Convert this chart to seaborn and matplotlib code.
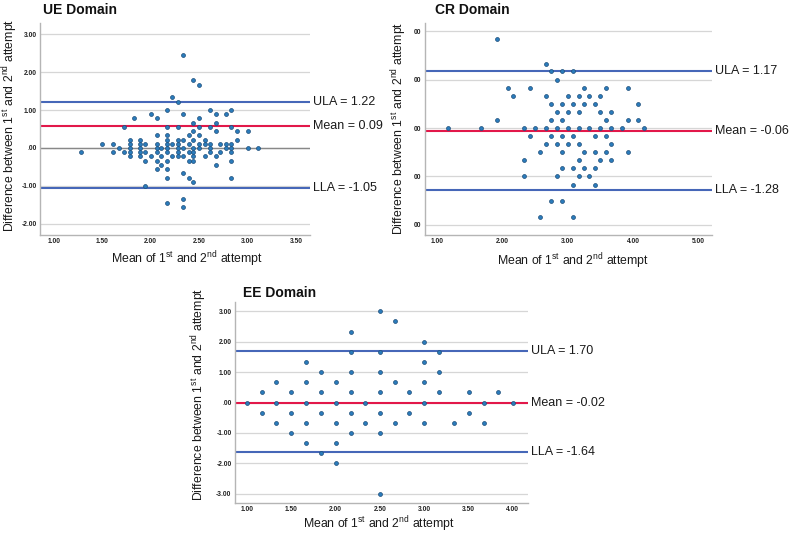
import matplotlib
matplotlib.use("Agg")
import pandas as pd
import matplotlib.pyplot as plt
import matplotlib.transforms as mtransforms
import seaborn as sns

# ---- UE domain: mean of attempts vs difference ----
ue_x = [2.33,
        2.44,
        2.50,
        2.22,
        2.28,
        2.17, 2.61, 2.83,
        2.00, 2.33, 2.67, 2.78,
        1.83, 2.06, 2.50,
        2.44, 2.67,
        1.72, 2.17, 2.28, 2.50, 2.61, 2.83,
        2.44, 2.67, 2.89, 3.00,
        2.06, 2.17, 2.39, 2.50,
        1.78, 1.89, 2.17, 2.28, 2.33, 2.44, 2.56, 2.89,
        1.50, 1.61, 1.78, 1.89, 1.94, 2.06, 2.17, 2.22, 2.28, 2.39, 2.50, 2.56, 2.61, 2.72, 2.78, 2.83,
        1.67, 1.78, 1.89, 2.06, 2.11, 2.17, 2.28, 2.33, 2.44, 2.50, 2.61, 2.78, 2.83, 3.00, 3.11,
        1.28, 1.61, 1.72, 1.78, 1.89, 1.94, 2.06, 2.17, 2.28, 2.39, 2.44, 2.61, 2.72, 2.83,
        1.78, 1.89, 2.00, 2.11, 2.22, 2.28, 2.33, 2.44, 2.56, 2.67,
        1.94, 2.06, 2.17, 2.39, 2.44, 2.83,
        2.11, 2.67,
        2.06, 2.17,
        2.33,
        2.17, 2.39, 2.83,
        2.44,
        1.94,
        2.33,
        2.17,
        2.33]
ue_y = [2.44,
        1.78,
        1.67,
        1.33,
        1.22,
        1.00, 1.00, 1.00,
        0.89, 0.89, 0.89, 0.89,
        0.78, 0.78, 0.78,
        0.67, 0.67,
        0.56, 0.56, 0.56, 0.56, 0.56, 0.56,
        0.44, 0.44, 0.44, 0.44,
        0.33, 0.33, 0.33, 0.33,
        0.22, 0.22, 0.22, 0.22, 0.22, 0.22, 0.22, 0.22,
        0.11, 0.11, 0.11, 0.11, 0.11, 0.11, 0.11, 0.11, 0.11, 0.11, 0.11, 0.11, 0.11, 0.11, 0.11, 0.11,
        0.00, 0.00, 0.00, 0.00, 0.00, 0.00, 0.00, 0.00, 0.00, 0.00, 0.00, 0.00, 0.00, 0.00, 0.00,
        -0.11, -0.11, -0.11, -0.11, -0.11, -0.11, -0.11, -0.11, -0.11, -0.11, -0.11, -0.11, -0.11, -0.11,
        -0.22, -0.22, -0.22, -0.22, -0.22, -0.22, -0.22, -0.22, -0.22, -0.22,
        -0.33, -0.33, -0.33, -0.33, -0.33, -0.33,
        -0.44, -0.44,
        -0.56, -0.56,
        -0.67,
        -0.78, -0.78, -0.78,
        -0.89,
        -1.00,
        -1.33,
        -1.44,
        -1.56]
ue_ula, ue_mean, ue_lla = 1.22, 0.09, -1.05
ue_mean_line = 0.58  # the red line sits here in the source figure

# ---- CR domain ----
cr_x = [1.92,
        2.67,
        2.75, 2.92, 3.08,
        2.83,
        2.08, 2.42, 3.25, 3.58, 3.92,
        2.17, 2.67, 3.00, 3.17, 3.33, 3.50,
        2.75, 2.92, 3.08, 3.25, 3.42, 4.08,
        2.83, 3.00, 3.17, 3.50, 3.67,
        1.92, 2.75, 2.92, 3.58, 3.92, 4.08,
        1.17, 1.67, 2.33, 2.50, 2.67, 2.83, 3.00, 3.17, 3.33, 3.50, 3.67, 3.83, 4.17,
        2.42, 2.75, 2.92, 3.08, 3.42, 3.58,
        2.67, 2.83, 3.00, 3.17, 3.67,
        2.58, 2.92, 3.25, 3.42, 3.58, 3.92,
        2.33, 3.17, 3.50, 3.67,
        2.92, 3.08, 3.25, 3.42,
        2.33, 2.83, 3.17, 3.33,
        3.08, 3.42,
        2.75, 2.92,
        2.58, 3.08]
cr_y = [1.83,
        1.33,
        1.17, 1.17, 1.17,
        1.00,
        0.83, 0.83, 0.83, 0.83, 0.83,
        0.67, 0.67, 0.67, 0.67, 0.67, 0.67,
        0.50, 0.50, 0.50, 0.50, 0.50, 0.50,
        0.33, 0.33, 0.33, 0.33, 0.33,
        0.17, 0.17, 0.17, 0.17, 0.17, 0.17,
        0.00, 0.00, 0.00, 0.00, 0.00, 0.00, 0.00, 0.00, 0.00, 0.00, 0.00, 0.00, 0.00,
        -0.17, -0.17, -0.17, -0.17, -0.17, -0.17,
        -0.33, -0.33, -0.33, -0.33, -0.33,
        -0.50, -0.50, -0.50, -0.50, -0.50, -0.50,
        -0.67, -0.67, -0.67, -0.67,
        -0.83, -0.83, -0.83, -0.83,
        -1.00, -1.00, -1.00, -1.00,
        -1.17, -1.17,
        -1.50, -1.50,
        -1.83, -1.83]
cr_ula, cr_mean, cr_lla = 1.17, -0.06, -1.28

# ---- EE domain ----
ee_x = [2.50,
        2.67,
        2.17,
        3.00,
        2.17, 2.50, 3.17,
        1.67, 3.00,
        1.83, 2.17, 2.50, 3.17,
        1.33, 1.67, 2.00, 2.67, 3.00,
        1.17, 1.50, 1.83, 2.17, 2.50, 2.83, 3.17, 3.50, 3.83,
        1.00, 1.33, 1.67, 2.00, 2.33, 3.00, 3.67, 4.00,
        1.17, 1.50, 1.83, 2.17, 2.50, 2.83, 3.50,
        1.33, 1.67, 2.00, 2.33, 2.67, 3.00, 3.33, 3.67,
        1.50, 2.17, 2.50,
        1.67, 2.00,
        1.83,
        2.00,
        2.50]
ee_y = [3.00,
        2.67,
        2.33,
        2.00,
        1.67, 1.67, 1.67,
        1.33, 1.33,
        1.00, 1.00, 1.00, 1.00,
        0.67, 0.67, 0.67, 0.67, 0.67,
        0.33, 0.33, 0.33, 0.33, 0.33, 0.33, 0.33, 0.33, 0.33,
        0.00, 0.00, 0.00, 0.00, 0.00, 0.00, 0.00, 0.00,
        -0.33, -0.33, -0.33, -0.33, -0.33, -0.33, -0.33,
        -0.67, -0.67, -0.67, -0.67, -0.67, -0.67, -0.67, -0.67,
        -1.00, -1.00, -1.00,
        -1.33, -1.33,
        -1.67,
        -2.00,
        -3.00]
ee_ula, ee_mean, ee_lla = 1.70, -0.02, -1.64

sns.set_theme(style="white")
plt.rcParams["font.family"] = ["Liberation Sans", "DejaVu Sans"]
plt.rcParams["mathtext.default"] = "regular"

BLUE_LINE = "#4667b8"
RED_LINE = "#e2184a"
GRID = "#d6d6d6"
DOT = "#2a7bbb"
DOT_EDGE = "#1d4d78"

XLAB = "Mean of 1$^{st}$ and 2$^{nd}$ attempt"
YLAB = "Difference between 1$^{st}$ and 2$^{nd}$ attempt"


def fmt(v):
    s = "%.2f" % v
    return s.replace("0.00", ".00")


def panel(ax, x, y, title, title_pos, xticks, yticks, ylabels, xlim, ylim, lines):
    df = pd.DataFrame({"mean": x, "diff": y})
    ax.set_xlim(*xlim)
    ax.set_ylim(*ylim)
    ax.set_yticks(yticks)
    ax.set_yticklabels(ylabels)
    ax.set_xticks(xticks)
    ax.set_xticklabels([fmt(t) for t in xticks])
    ax.tick_params(length=0, pad=2.5, labelsize=4.8, colors="#222222")
    for lab in ax.get_xticklabels() + ax.get_yticklabels():
        lab.set_fontweight("bold")
    ax.yaxis.grid(True, color=GRID, lw=0.9)
    ax.xaxis.grid(False)
    ax.set_axisbelow(True)
    for s in ["top", "right"]:
        ax.spines[s].set_visible(False)
    for s in ["left", "bottom"]:
        ax.spines[s].set_color("#b5b5b5")
        ax.spines[s].set_linewidth(1.0)
    trans = mtransforms.blended_transform_factory(ax.transAxes, ax.transData)
    for text, ypos, color in lines:
        ax.axhline(ypos, color=color, lw=1.5, zorder=2)
        ax.annotate(text, xy=(1.0, ypos), xycoords=trans, xytext=(3, 0),
                    textcoords="offset pixels", va="center", ha="left",
                    fontsize=9, color="#1a1a1a", annotation_clip=False)
    sns.scatterplot(data=df, x="mean", y="diff", ax=ax, s=8, color=DOT,
                    edgecolor=DOT_EDGE, linewidth=0.5, zorder=3, legend=False)
    ax.set_xlabel("")
    ax.set_ylabel("")
    ax.text(title_pos[0], title_pos[1], title, transform=ax.transAxes,
            fontsize=10, fontweight="bold", ha="left", va="bottom", color="#111111")


fig = plt.figure(figsize=(7.89, 5.35), dpi=100)
ax_ue = fig.add_axes([40 / 789, 1 - 235 / 535, 270 / 789, 212 / 535])
ax_cr = fig.add_axes([425 / 789, 1 - 235 / 535, 287 / 789, 212 / 535])
ax_ee = fig.add_axes([235 / 789, 1 - 503 / 535, 293 / 789, 201 / 535])

ax_ue.axhline(0, color="#888888", lw=1.0, zorder=1.5)
panel(ax_ue, ue_x, ue_y, "UE Domain", (0.011, 1.03),
      [1.0, 1.5, 2.0, 2.5, 3.0, 3.5],
      [-2, -1, 0, 1, 2, 3], ["-2.00", "-1.00", ".00", "1.00", "2.00", "3.00"],
      (0.855, 3.645), (-2.29, 3.29),
      [("ULA = %.2f" % ue_ula, ue_ula, BLUE_LINE),
       ("Mean = %.2f" % ue_mean, ue_mean_line, RED_LINE),
       ("LLA = %.2f" % ue_lla, ue_lla, BLUE_LINE)])

panel(ax_cr, cr_x, cr_y, "CR Domain", (0.035, 1.028),
      [1.0, 2.0, 3.0, 4.0, 5.0],
      [-2, -1, 0, 1, 2], ["00", "00", "00", "00", "00"],
      (0.816, 5.21), (-2.21, 2.17),
      [("ULA = %.2f" % cr_ula, cr_ula, BLUE_LINE),
       ("Mean = %.2f" % cr_mean, cr_mean, RED_LINE),
       ("LLA = %.2f" % cr_lla, cr_lla, BLUE_LINE)])

panel(ax_ee, ee_x, ee_y, "EE Domain", (0.027, 1.008),
      [1.0, 1.5, 2.0, 2.5, 3.0, 3.5, 4.0],
      [-3, -2, -1, 0, 1, 2, 3], ["-3.00", "-2.00", "-1.00", ".00", "1.00", "2.00", "3.00"],
      (0.865, 4.17), (-3.3, 3.3),
      [("ULA = %.2f" % ee_ula, ee_ula, BLUE_LINE),
       ("Mean = %.2f" % ee_mean, ee_mean, RED_LINE),
       ("LLA = %.2f" % ee_lla, ee_lla, BLUE_LINE)])

# axis titles placed like the source layout
for (px, py) in [(10, 125), (399, 128), (199, 394)]:
    fig.text(px / 789, 1 - py / 535, YLAB, rotation=90, ha="center", va="center",
             fontsize=8.8, color="#1a1a1a")
for (px, py) in [(187, 259), (573, 261), (379, 524)]:
    fig.text(px / 789, 1 - py / 535, XLAB, ha="center", va="center",
             fontsize=8.8, color="#1a1a1a")

fig.savefig("out.png", dpi=100)
